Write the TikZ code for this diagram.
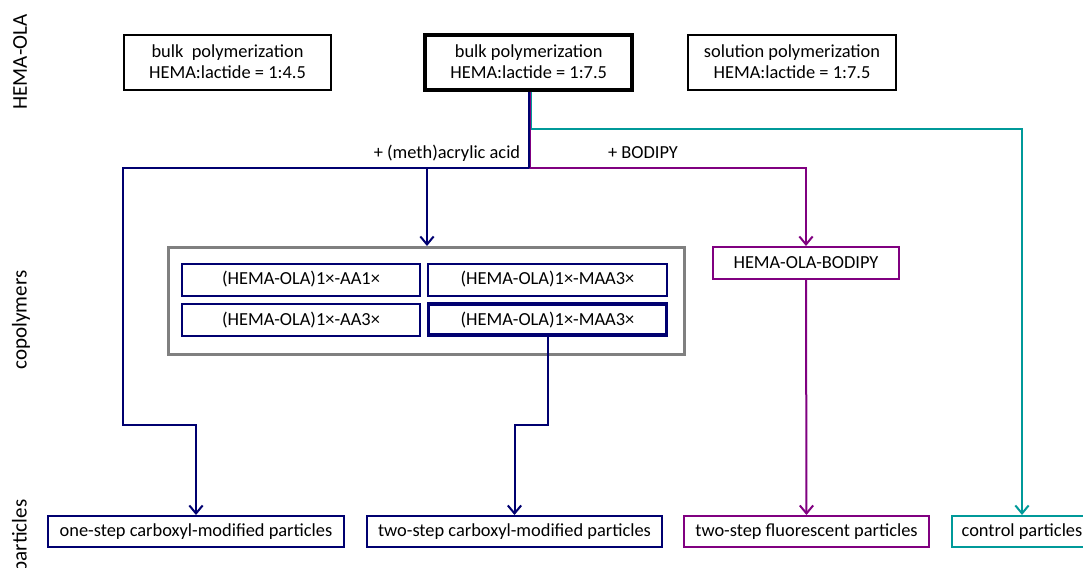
\documentclass[tikz,border=0pt]{standalone}
\usepackage{fontspec}
\setmainfont{Carlito}
\usetikzlibrary{arrows.meta}
\definecolor{navy}{RGB}{0,0,112}
\definecolor{purp}{RGB}{128,0,128}
\definecolor{teal2}{RGB}{0,153,153}
\definecolor{grey2}{RGB}{128,128,128}
\begin{document}
\begin{tikzpicture}[x=0.75pt,y=-0.75pt,
  txt/.style={font=\fontsize{13.8}{15.8}\selectfont},
  side/.style={font=\fontsize{15.8}{18}\selectfont, rotate=90},
  bx/.style={draw, line width=1.5pt, inner sep=0pt, align=center, txt},
  thick4/.style={line width=3pt},
  ln/.style={line width=1.5pt},
  arr/.style={-{Straight Barb[length=6pt,width=10pt,line width=1.5pt]}},
]
\useasboundingbox (0,0) rectangle (1083,568);

% top row
\node[bx, minimum width=207*0.75pt, minimum height=55*0.75pt] (b1) at (227.5,62) {bulk\ \ polymerization\\HEMA:lactide = 1:4.5};
\node[bx, thick4, minimum width=207*0.75pt, minimum height=55*0.75pt] (b2) at (528.7,62) {bulk polymerization\\HEMA:lactide = 1:7.5};
\node[bx, minimum width=208*0.75pt, minimum height=55*0.75pt] (b3) at (792,62) {solution polymerization\\HEMA:lactide = 1:7.5};

% copolymers
\node[draw=grey2, line width=2.25pt, minimum width=516*0.75pt, minimum height=107*0.75pt, inner sep=0pt] (gray) at (426.5,301) {};
\node[bx, draw=navy, minimum width=238*0.75pt, minimum height=32*0.75pt] (aa1) at (301,279.5) {(HEMA-OLA)1×-AA1×};
\node[bx, draw=navy, minimum width=239*0.75pt, minimum height=32*0.75pt] (maa1) at (547.5,279.5) {(HEMA-OLA)1×-MAA3×};
\node[bx, draw=navy, minimum width=238*0.75pt, minimum height=32*0.75pt] (aa3) at (301,319.7) {(HEMA-OLA)1×-AA3×};
\node[bx, draw=navy, line width=2.6pt, minimum width=238*0.75pt, minimum height=31*0.75pt] (maa3) at (547.5,319.7) {(HEMA-OLA)1×-MAA3×};
\node[bx, draw=purp, minimum width=186*0.75pt, minimum height=32*0.75pt] (bod) at (806,263) {HEMA-OLA-BODIPY};

% particles
\node[bx, draw=navy, minimum width=296*0.75pt, minimum height=31*0.75pt] (p1) at (196,531.5) {one-step carboxyl-modified particles};
\node[bx, draw=navy, minimum width=295*0.75pt, minimum height=31*0.75pt] (p2) at (514.5,531.5) {two-step carboxyl-modified particles};
\node[bx, draw=purp, minimum width=245*0.75pt, minimum height=31*0.75pt] (p3) at (806.5,531.5) {two-step fluorescent particles};
\node[bx, draw=teal2, minimum width=140*0.75pt, minimum height=31*0.75pt] (p4) at (1022,531.5) {control particles};

% side labels
\node[side] (s1) at (20,62) {HEMA-OLA};
\node[side] (s2) at (21,320) {copolymers};
\node[side] (s3) at (21,536) {particles};

% connector helpers
\coordinate (tj) at (531,129);
\coordinate (pj) at (530,168);
\coordinate (nj) at (529,168);
\coordinate (nl) at (123,425);
\coordinate (br) at (427,168);
\coordinate (kj) at (548,425);

% labels
\node[txt] (lab1) at (447,153) {+ (meth)acrylic acid};
\node[txt] (lab2) at (643,153) {+ BODIPY};

% connectors
\draw[teal2, ln, arr] ([xshift=2*0.75pt]b2.south) |- (tj) -| (p4.north);
\draw[purp, ln, arr] ([xshift=1*0.75pt]b2.south) |- (pj) -| (bod.north);
\draw[navy, ln, arr] (b2.south) |- (nj) -| (nl) -| (p1.north);
\draw[navy, ln, arr] (br) -- (gray.north -| br);
\draw[navy, ln, arr] (maa3.south -| kj) -- (kj) -| (p2.north);
\draw[purp, ln, arr] (bod.south) -- (p3.north);
\end{tikzpicture}
\end{document}
